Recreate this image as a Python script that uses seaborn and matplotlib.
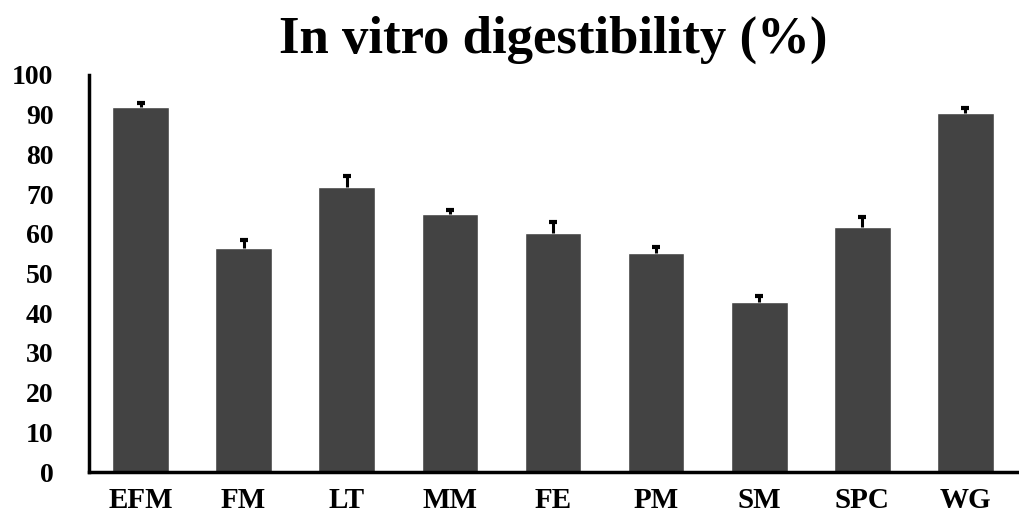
import matplotlib
matplotlib.use("Agg")
import matplotlib.pyplot as plt
import seaborn as sns
import numpy as np
import pandas as pd

# In vitro digestibility by ingredient (mean and upper error)
categories = ["EFM", "FM", "LT", "MM", "FE", "PM", "SM", "SPC", "WG"]
digestibility = [91.9, 56.5, 71.8, 65.0, 60.1, 55.1, 42.8, 61.8, 90.4]
errors = [1.0, 1.9, 2.8, 1.0, 2.9, 1.7, 1.6, 2.5, 1.3]
yticks = [0, 10, 20, 30, 40, 50, 60, 70, 80, 90, 100]

sns.set_style("white")
plt.rcParams["font.family"] = ["Liberation Serif", "DejaVu Serif"]
plt.rcParams["font.weight"] = "bold"

df = pd.DataFrame({"ingredient": categories, "value": digestibility})

fig = plt.figure(figsize=(10.19, 5.16), dpi=100)
ax = fig.add_axes([89 / 1019, 1 - 472 / 516, (1017 - 89) / 1019, (472 - 75) / 516])

sns.barplot(data=df, x="ingredient", y="value", color="#434343",
            saturation=1, width=0.55, errorbar=None, ax=ax, zorder=2)

# upper-only error bars
xpos = np.arange(len(categories))
_, caps, _ = ax.errorbar(xpos, digestibility,
                         yerr=[np.zeros(len(errors)), errors],
                         fmt="none", ecolor="black", elinewidth=2.2,
                         capsize=3.2, capthick=3, zorder=3)
caps[0].set_visible(False)

ax.set_ylim(0, 100)
ax.set_xlim(-0.5, len(categories) - 0.5)
ax.set_yticks(yticks)
ax.set_yticklabels([str(v) for v in yticks], fontsize=20, fontweight="bold")
ax.set_xticks(xpos)
ax.set_xticklabels(categories, fontsize=21, fontweight="bold")
ax.set_xlabel("")
ax.set_ylabel("")

for side in ["top", "right"]:
    ax.spines[side].set_visible(False)
for side in ["left", "bottom"]:
    ax.spines[side].set_linewidth(2.5)
    ax.spines[side].set_color("black")

ax.tick_params(axis="y", direction="out", length=7.5, width=2.5, pad=18, colors="black")
ax.tick_params(axis="x", direction="inout", length=10, width=2.5, pad=6, colors="black")

fig.text((89 + 1017) / 2 / 1019, 1 - 40 / 516, "In vitro digestibility (%)",
         ha="center", va="center", fontsize=38, fontweight="bold", color="black")

fig.savefig("out.png", dpi=100, facecolor="white")
